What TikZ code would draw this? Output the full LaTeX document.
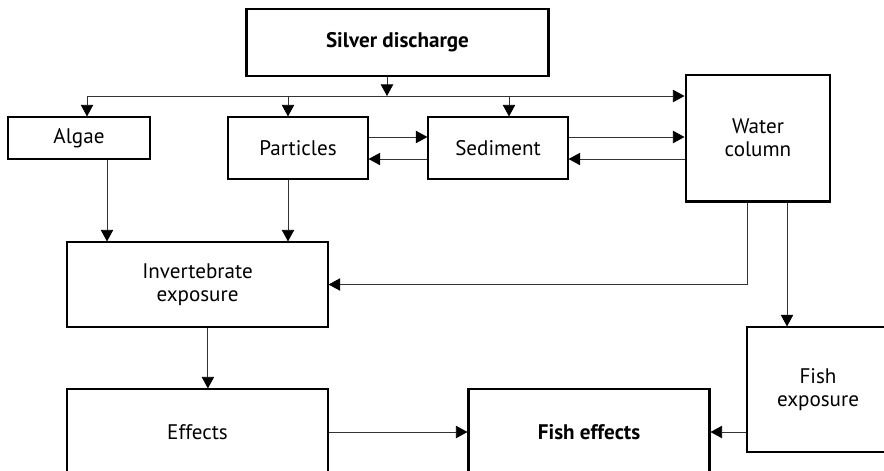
\documentclass[tikz,border=0pt]{standalone}
\usepackage{fontspec}
\setmainfont{PT Sans}
\usetikzlibrary{arrows.meta, positioning, calc}
\tikzset{
  % thin connectors with solid triangular heads
  every picture/.append style = {line width=0.6pt, >={Triangle[length=2.9mm, width=3.1mm, color=black]}},
  box/.style    = {draw=black, line width=0.8pt, inner sep=0, align=center,
                   font=\fontsize{15}{16.4}\selectfont},
  bigbox/.style = {box, line width=2.1pt, font=\fontsize{15}{16.4}\selectfont\bfseries},
  flow/.style   = {->, black!80, line width=0.6pt},
}

\begin{document}
\begin{tikzpicture}[x=0.025cm,y=-0.025cm]
  \useasboundingbox (0,0) rectangle (884,470);
  \clip (0,0) rectangle (884,470);
  % --- source and the first row ------------------------------------------
  \node[bigbox, minimum width=7.525cm, minimum height=1.675cm] (silver) at (397.5,42.5) {Silver discharge};
  \node[box, minimum width=3.55cm, minimum height=1.05cm] (algae) at (79,138) {Algae};
  \node[box, minimum width=3.5cm, minimum height=1.55cm] (particles) at (298,148) {Particles};
  \node[box, minimum width=3.5cm, minimum height=1.55cm] (sediment) at (498,148) {Sediment};
  \node[bigbox, font=\fontsize{15}{16.4}\selectfont, minimum width=3.6cm, minimum height=3.15cm] (water) at (758,138) {Water\\column};
  % --- exposure and effects ----------------------------------------------
  \node[box, minimum width=6.525cm, minimum height=2.125cm] (invert) at (197.5,284.5) {Invertebrate\\exposure};
  \node[box, minimum width=6.525cm, minimum height=2.15cm] (effects) at (197.5,432) {Effects};
  \node[bigbox, minimum width=6cm, minimum height=2.15cm] (fisheff) at (589,432) {Fish effects};
  \node[box, minimum width=3.55cm, minimum height=3.125cm] (fishexp) at (818,389.5) {Fish\\exposure};
  % --- distribution line under the source ---------------------------------
  \coordinate (bus) at (387,96);
  \draw[flow] (bus |- silver.south) -- (bus);
  \draw[flow] (bus) -| ([xshift=2mm]algae.north);
  \draw[flow] (bus) -| ([xshift=-2.5mm]particles.north);
  \draw[flow] (bus) -| ([xshift=2.75mm]sediment.north);
  \draw[flow] (bus) -- (bus -| water.west);
  % exchange between compartments
  \draw[flow] ([yshift=2.75mm]particles.east) -- ([yshift=2.75mm]sediment.west);
  \draw[flow] ([yshift=-2.75mm]sediment.west) -- ([yshift=-2.75mm]particles.east);
  \draw[flow] ([yshift=2.75mm]sediment.east) -- ([yshift=2.75mm]sediment.east -| water.west);
  \draw[flow] ([yshift=-2.75mm]sediment.east -| water.west) -- ([yshift=-2.75mm]sediment.east);
  % --- down to exposure ---------------------------------------------------
  \draw[flow] ([xshift=7mm]algae.south) -- ([xshift=7mm]algae.south |- invert.north);
  \draw[flow] ([xshift=-2.5mm]particles.south) -- ([xshift=-2.5mm]particles.south |- invert.north);
  \draw[flow] ([xshift=-2.75mm]water.south) |- (invert.east);
  \draw[flow] ([xshift=7.25mm]water.south) -- ([xshift=7.25mm]water.south |- fishexp.north);
  \draw[flow] ([xshift=2.6mm]invert.south) -- ([xshift=2.6mm]invert.south |- effects.north);
  \draw[flow] (effects.east) -- (fisheff.west);
  \draw[flow] (fishexp.west |- fisheff.east) -- (fisheff.east);
\end{tikzpicture}
\end{document}
